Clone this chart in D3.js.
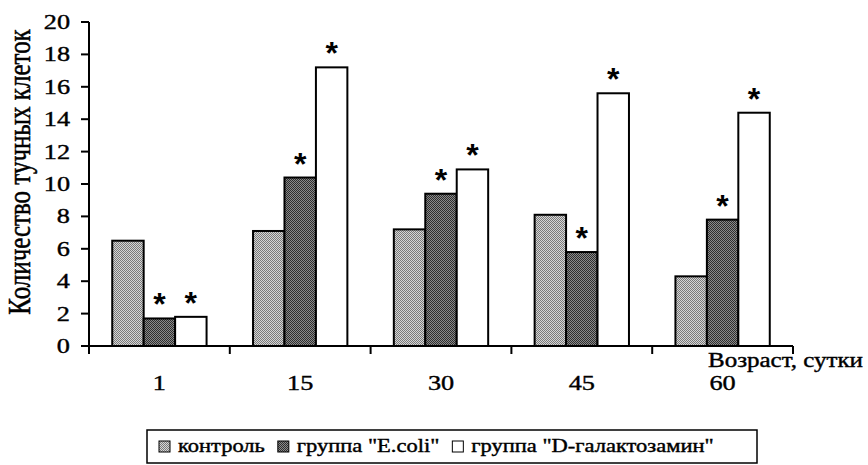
<!DOCTYPE html>
<html>
<head>
<meta charset="utf-8">
<script src="https://cdn.jsdelivr.net/npm/d3@7/dist/d3.min.js"></script>
<style>
  html, body { margin: 0; padding: 0; background: #fff; }
  svg { display: block; }
</style>
</head>
<body>
<svg id="chart" width="868" height="465"></svg>
<script>
// Mast cell counts by age and group
const ages = ["1", "15", "30", "45", "60"];
const seriesNames = ["контроль", "группа \"E.coli\"", "группа \"D-галактозамин\""];
const control = [6.5, 7.1, 7.2, 8.1, 4.3];
const ecoli = [1.7, 10.4, 9.4, 5.8, 7.8];
const galactosamine = [1.8, 17.2, 10.9, 15.6, 14.4];
// significance marks (true = asterisk above the bar)
const markControl = [false, false, false, false, false];
const markEcoli = [true, true, true, true, true];
const markGal = [true, true, true, true, true];
const yTicks = [0, 2, 4, 6, 8, 10, 12, 14, 16, 18, 20];
const yTitle = "Количество тучных клеток";
const xTitle = "Возраст, сутки";

const seriesValues = [control, ecoli, galactosamine];
const seriesMarks = [markControl, markEcoli, markGal];
const fills = ["url(#patLight)", "url(#patDark)", "#ffffff"];

const SERIF = "'Liberation Serif', 'Times New Roman', 'DejaVu Serif', serif";
const svg = d3.select("#chart");
const SX = 1.25; // horizontal stretch of the lettering

// dithered fills
const defs = svg.append("defs");
function dither(id, a, b) {
  const p = defs.append("pattern").attr("id", id)
    .attr("patternUnits", "userSpaceOnUse").attr("width", 2).attr("height", 2);
  p.append("rect").attr("width", 2).attr("height", 2).attr("fill", a);
  p.append("rect").attr("width", 1).attr("height", 1).attr("fill", b);
  p.append("rect").attr("x", 1).attr("y", 1).attr("width", 1).attr("height", 1).attr("fill", b);
}
dither("patLight", "#d6d6d6", "#7a7a7a");
dither("patDark", "#8a8a8a", "#2e2e2e");

const plot = { left: 89, right: 793, top: 22, bottom: 346 };

const x0 = d3.scaleBand().domain(ages).range([plot.left, plot.right]).paddingInner(0).paddingOuter(0);
const groupW = x0.bandwidth() * 0.67;
const x1 = d3.scaleBand().domain(d3.range(seriesNames.length)).range([0, groupW]);
const y = d3.scaleLinear().domain([0, 20]).range([plot.bottom, plot.top]);

function stretchedText(g, x, yy, str, size, anchor) {
  return g.append("text")
    .attr("transform", `translate(${x},${yy}) scale(${SX},1)`)
    .attr("text-anchor", anchor)
    .style("font-family", SERIF)
    .attr("font-size", size)
    .attr("fill", "#000")
    .attr("stroke", "#000")
    .attr("stroke-width", 0.4)
    .text(str);
}

// bars
const bars = svg.append("g");
ages.forEach((age, i) => {
  const gx = x0(age) + (x0.bandwidth() - groupW) / 2;
  seriesValues.forEach((vals, s) => {
    bars.append("rect")
      .attr("x", gx + x1(s))
      .attr("y", y(vals[i]))
      .attr("width", x1.bandwidth())
      .attr("height", y(0) - y(vals[i]))
      .attr("fill", fills[s])
      .attr("stroke", "#000")
      .attr("stroke-width", 2);
    if (seriesMarks[s][i]) {
      bars.append("text")
        .attr("x", gx + x1(s) + x1.bandwidth() / 2)
        .attr("y", y(vals[i]) - 3)
        .attr("text-anchor", "middle")
        .style("font-family", "'Liberation Sans', Arial, sans-serif")
        .attr("font-weight", "bold")
        .attr("font-size", 32)
        .attr("fill", "#000")
        .text("*");
    }
  });
});

// y axis
const yAxis = svg.append("g");
yAxis.append("line")
  .attr("x1", plot.left).attr("x2", plot.left)
  .attr("y1", y(20)).attr("y2", y(0))
  .attr("stroke", "#000").attr("stroke-width", 2);
yTicks.forEach(t => {
  yAxis.append("line")
    .attr("x1", plot.left - 8).attr("x2", plot.left)
    .attr("y1", y(t)).attr("y2", y(t))
    .attr("stroke", "#000").attr("stroke-width", 2);
  stretchedText(yAxis, 70, y(t) + 7, String(t), 21, "end");
});

// x axis
const xAxis = svg.append("g");
xAxis.append("line")
  .attr("x1", plot.left).attr("x2", plot.right)
  .attr("y1", y(0)).attr("y2", y(0))
  .attr("stroke", "#000").attr("stroke-width", 2);
const bounds = ages.map(a => x0(a)).concat([plot.right]);
bounds.forEach(bx => {
  xAxis.append("line")
    .attr("x1", bx).attr("x2", bx)
    .attr("y1", y(0)).attr("y2", y(0) + 8)
    .attr("stroke", "#000").attr("stroke-width", 2);
});
ages.forEach(a => {
  stretchedText(xAxis, x0(a) + x0.bandwidth() / 2, 390, a, 21, "middle");
});

// axis titles
stretchedText(svg, 708, 367, xTitle, 20, "start");
svg.append("text")
  .attr("transform", `translate(30,172) rotate(-90) scale(1,${SX})`)
  .attr("text-anchor", "middle")
  .style("font-family", SERIF)
  .attr("font-size", 25)
  .attr("fill", "#000")
  .attr("stroke", "#000")
  .attr("stroke-width", 0.4)
  .text(yTitle);

// legend
const legend = svg.append("g");
legend.append("rect")
  .attr("x", 147).attr("y", 430).attr("width", 610).attr("height", 33)
  .attr("fill", "#fff").attr("stroke", "#000").attr("stroke-width", 1.5);
let lx = 159;
seriesNames.forEach((name, s) => {
  legend.append("rect")
    .attr("x", lx).attr("y", 441).attr("width", 11).attr("height", 11)
    .attr("fill", fills[s]).attr("stroke", "#000").attr("stroke-width", 1);
  const t = stretchedText(legend, lx + 19, 452, name, 18, "start");
  const w = t.node().getComputedTextLength() * SX;
  lx = lx + 19 + w + 13;
});
</script>
</body>
</html>
